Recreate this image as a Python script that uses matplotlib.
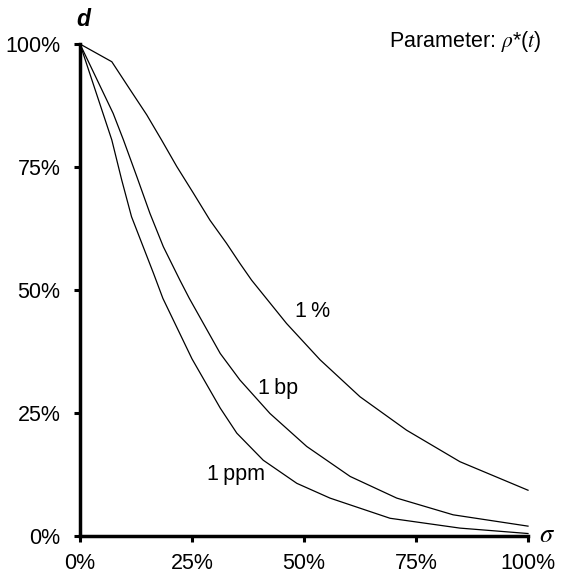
import numpy as np
import matplotlib.pyplot as plt
from matplotlib import font_manager

# curve data (sigma in %, d in %)
sig_1pct = [0, 7.1, 11.2, 14.9, 18.2, 21.6, 25.3, 29.0, 32.7, 35.7, 38.3, 46.1, 53.6, 62.5, 72.9, 84.8, 100]
d_1pct = [100, 96.4, 90.7, 85.6, 80.5, 75.1, 69.7, 64.2, 59.5, 55.4, 52.0, 43.2, 35.8, 28.3, 21.5, 15.1, 9.3]

sig_1bp = [0, 7.4, 9.7, 12.7, 15.6, 18.6, 22.3, 24.4, 31.3, 35.7, 42.4, 50.6, 60.3, 70.7, 83.3, 100]
d_1bp = [100, 85.9, 80.5, 73.0, 65.6, 58.8, 52.0, 48.3, 37.1, 31.7, 24.9, 18.2, 12.1, 7.7, 4.3, 2.0]

sig_1ppm = [0, 7.1, 9.3, 11.5, 14.1, 16.4, 18.5, 25.0, 31.3, 35.0, 40.9, 48.4, 55.8, 69.2, 84.8, 100]
d_1ppm = [100, 80.5, 72.4, 64.9, 58.8, 53.4, 48.3, 36.0, 26.0, 20.9, 15.4, 10.7, 7.7, 3.6, 1.6, 0.5]

labels = ['1\u2009%', '1\u2009bp', '1\u2009ppm']
label_pos = [(51.8, 45.7), (44.2, 29.9), (34.8, 12.4)]

ticks = [0, 25, 50, 75, 100]
tick_labels = ['0%', '25%', '50%', '75%', '100%']

# pick a narrow sans if one is installed
installed = set(f.name for f in font_manager.fontManager.ttflist)
family = 'DejaVu Sans'
for cand in ['Liberation Sans Narrow', 'DejaVu Sans Condensed', 'Liberation Sans']:
    if cand in installed:
        family = cand
        break
narrow = family != 'Liberation Sans'
plt.rcParams['font.family'] = [family, 'DejaVu Sans']
fs = 16.5 if narrow else 15.5

fig = plt.figure(figsize=(5.61, 5.80), dpi=100)
ax = fig.add_axes([0.1426, 0.0759, 0.9412 - 0.1426, 0.9241 - 0.0759])

for s, d in [(sig_1pct, d_1pct), (sig_1bp, d_1bp), (sig_1ppm, d_1ppm)]:
    ax.plot(s, d, color='black', lw=0.9, clip_on=False)

for txt, (x, y) in zip(labels, label_pos):
    ax.text(x, y, txt, fontsize=fs, ha='center', va='center')

ax.set_xlim(0, 100)
ax.set_ylim(0, 100)
ax.set_xticks(ticks)
ax.set_xticklabels(tick_labels)
ax.set_yticks(ticks)
ax.set_yticklabels(tick_labels)
ax.tick_params(direction='out', length=4, width=2.2, labelsize=fs)
ax.tick_params(axis='x', pad=8)
ax.tick_params(axis='y', pad=10)

for side in ['top', 'right']:
    ax.spines[side].set_visible(False)
for side in ['left', 'bottom']:
    ax.spines[side].set_linewidth(2.5)

ax.text(0.8, 105, 'd', fontsize=fs + 1, fontweight='bold', fontstyle='italic',
        ha='center', va='center')
ax.text(102.5, 0.2, r'$\sigma$', fontsize=19, ha='left', va='center',
        math_fontfamily='stix')
ax.text(103, 100.5, r'Parameter: $\rho$*($t$)', fontsize=fs, ha='right', va='center',
        math_fontfamily='stix')

fig.savefig('out.png', dpi=100)
